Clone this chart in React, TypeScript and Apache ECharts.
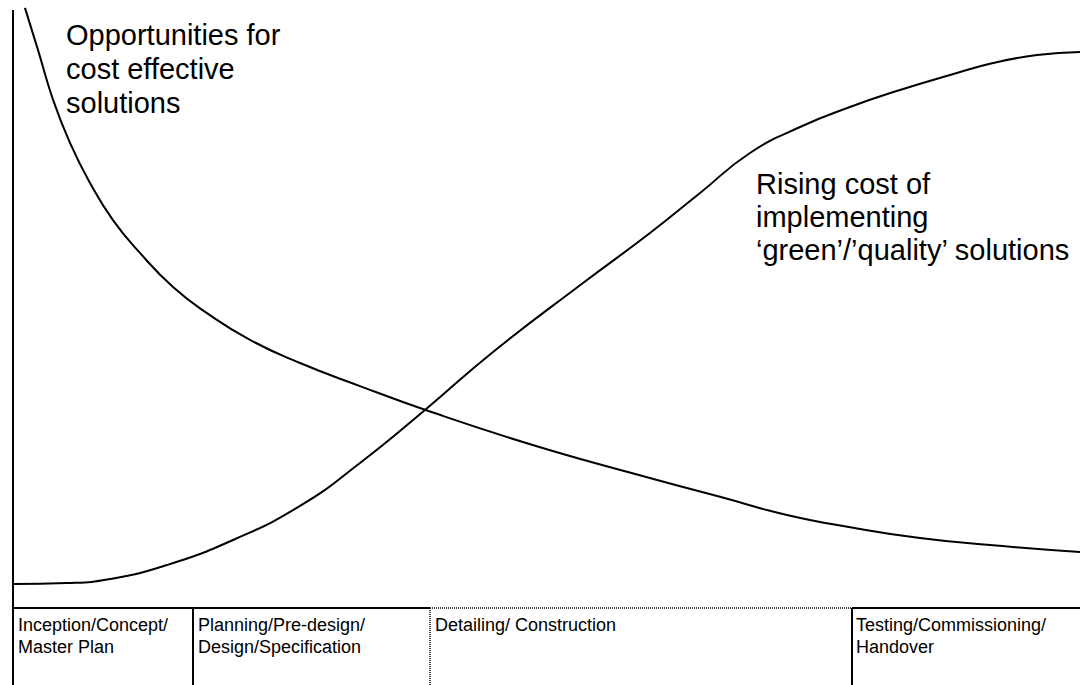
import React, { useEffect, useRef } from "react";
import * as echarts from "echarts";

// Stage progress (0-100 across the project timeline) and relative level (0-100)
const opportunityX = [1.12, 2.34, 3.75, 5.34, 7.22, 9.37, 11.9, 15.0, 18.18, 22.21, 26.9, 32.52, 38.61, 48.17, 57.54, 66.26, 72.54, 78.73, 85.0, 91.28, 100];
const opportunityY = [98.7, 91.8, 83.6, 76.5, 69.9, 63.8, 58.4, 52.8, 48.5, 44.1, 40.3, 36.5, 32.6, 27.1, 22.4, 18.3, 15.3, 13.2, 11.5, 10.4, 9.2];

const costX = [0, 5.06, 9.09, 14.43, 20.62, 26.9, 32.52, 38.61, 44.99, 53.42, 59.7, 64.39, 69.07, 73.76, 78.44, 83.13, 87.82, 91.85, 95.97, 100];
const costY = [3.95, 4.11, 4.77, 7.07, 11.18, 16.8, 23.85, 32.57, 42.11, 53.45, 61.68, 68.26, 74.84, 79.11, 82.4, 85.2, 87.66, 89.64, 90.95, 91.45];

const stageLabels = [
  "Inception/Concept/\nMaster Plan",
  "Planning/Pre-design/\nDesign/Specification",
  "Detailing/ Construction",
  "Testing/Commissioning/\nHandover",
];
const opportunityLabel = "Opportunities for\ncost effective\nsolutions";
const costLabel = "Rising cost of\nimplementing\n\u2018green\u2019/\u2019quality\u2019 solutions";

const FONT = "'Liberation Sans', Arial, Helvetica, sans-serif";

export default function App() {
  const ref = useRef<HTMLDivElement>(null);

  useEffect(() => {
    document.body.style.margin = "0";
    if (!ref.current) return;
    const chart = echarts.init(ref.current, undefined, { renderer: "svg" });

    const lineStyle = { color: "#000", width: 2 };
    const solid = { stroke: "#000", lineWidth: 2 };
    const dotted = { stroke: "#000", lineWidth: 1.5, lineDash: [1, 1] };

    const cellX = [18, 198, 435, 856];

    chart.setOption({
      animation: false,
      backgroundColor: "#fff",
      grid: { left: 13, right: 0, top: 0, bottom: 77 },
      xAxis: { type: "value", min: 0, max: 100, show: false },
      yAxis: { type: "value", min: 0, max: 100, show: false },
      series: [
        {
          name: "Opportunities for cost effective solutions",
          type: "line",
          data: opportunityX.map((x, i) => [x, opportunityY[i]]),
          smooth: 0.5,
          showSymbol: false,
          lineStyle,
          clip: false,
        },
        {
          name: "Rising cost of implementing solutions",
          type: "line",
          data: costX.map((x, i) => [x, costY[i]]),
          smooth: 0.5,
          showSymbol: false,
          lineStyle,
          clip: false,
        },
      ],
      graphic: [
        { type: "line", shape: { x1: 13, y1: 10, x2: 13, y2: 685 }, style: solid },
        { type: "line", shape: { x1: 13, y1: 608, x2: 430, y2: 608 }, style: solid },
        { type: "line", shape: { x1: 430, y1: 608, x2: 852, y2: 608 }, style: dotted },
        { type: "line", shape: { x1: 852, y1: 608, x2: 1080, y2: 608 }, style: solid },
        { type: "line", shape: { x1: 193, y1: 608, x2: 193, y2: 685 }, style: solid },
        { type: "line", shape: { x1: 430, y1: 608, x2: 430, y2: 685 }, style: dotted },
        { type: "line", shape: { x1: 852, y1: 608, x2: 852, y2: 685 }, style: solid },
        ...stageLabels.map((t, i) => ({
          type: "text",
          x: cellX[i],
          y: 614,
          style: {
            text: t,
            fontSize: 18,
            fontFamily: FONT,
            lineHeight: 22,
            fill: "#000",
            verticalAlign: "top",
          },
        })),
        {
          type: "text",
          x: 66,
          y: 18,
          style: {
            text: opportunityLabel,
            fontSize: 29,
            fontFamily: FONT,
            lineHeight: 34,
            fill: "#000",
            verticalAlign: "top",
          },
        },
        {
          type: "text",
          x: 756,
          y: 167,
          style: {
            text: costLabel,
            fontSize: 29,
            fontFamily: FONT,
            lineHeight: 33,
            fill: "#000",
            verticalAlign: "top",
          },
        },
      ],
    });

    return () => chart.dispose();
  }, []);

  return <div ref={ref} style={{ width: 1080, height: 685 }} />;
}
